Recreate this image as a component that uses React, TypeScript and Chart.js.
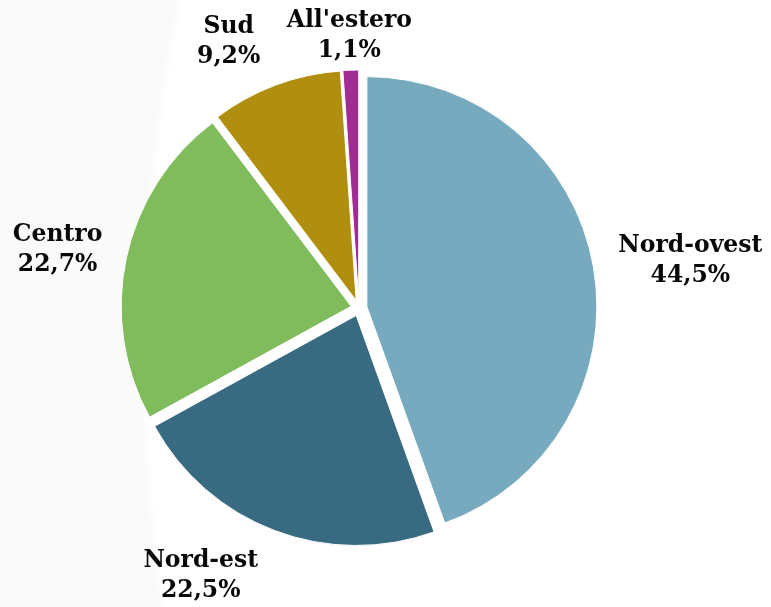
import React, { useEffect, useRef } from "react";
import { Chart, registerables } from "chart.js";

Chart.register(...registerables);

const categories = ["Nord-ovest", "Nord-est", "Centro", "Sud", "All'estero"];
const shares = [44.5, 22.5, 22.7, 9.2, 1.1];
const shareLabels = ["44,5%", "22,5%", "22,7%", "9,2%", "1,1%"];
const sliceColors = ["#78AABF", "#386B82", "#80BC5C", "#B08F10", "#A02C94"];

const RADIUS = 230;
const EXPLODE = 8;
const LABEL_GAP = 8;
const LABEL_NUDGE: [number, number][] = [
  [18, -2],
  [-51, 8],
  [-17, -2],
  [-33, -10],
  [1, 2],
];
const FONT_SIZE = 23.5;
const LINE_H = 30;
const FONT_FAMILY = '"DejaVu Serif", serif';

const explodePlugin = {
  id: "explodeSlices",
  afterDatasetsUpdate(chart: any) {
    const meta = chart.getDatasetMeta(0);
    meta.data.forEach((arc: any) => {
      const mid = (arc.startAngle + arc.endAngle) / 2;
      arc.x += Math.cos(mid) * EXPLODE;
      arc.y += Math.sin(mid) * EXPLODE;
    });
  },
};

const labelPlugin = {
  id: "outsideLabels",
  afterDatasetsDraw(chart: any) {
    const { ctx, chartArea } = chart;
    const cx = (chartArea.left + chartArea.right) / 2;
    const cy = (chartArea.top + chartArea.bottom) / 2;
    const meta = chart.getDatasetMeta(0);
    ctx.save();
    ctx.font = `bold ${FONT_SIZE}px ${FONT_FAMILY}`;
    ctx.fillStyle = "#080808";
    ctx.textAlign = "center";
    ctx.textBaseline = "alphabetic";
    meta.data.forEach((arc: any, i: number) => {
      const mid = (arc.startAngle + arc.endAngle) / 2;
      const dx = Math.cos(mid);
      const dy = Math.sin(mid);
      const l1 = categories[i];
      const l2 = shareLabels[i];
      const w = Math.max(ctx.measureText(l1).width, ctx.measureText(l2).width);
      const h = 2 * LINE_H;
      const d = RADIUS + EXPLODE + LABEL_GAP;
      const bx = cx + dx * d + (dx * w) / 2 + LABEL_NUDGE[i][0];
      const by = cy + dy * d + (dy * h) / 2 + LABEL_NUDGE[i][1];
      const capHalf = 8;
      ctx.fillText(l1, bx, by - LINE_H / 2 + capHalf);
      ctx.fillText(l2, bx, by + LINE_H / 2 + capHalf);
    });
    ctx.restore();
  },
};

export default function App() {
  const ref = useRef<HTMLCanvasElement | null>(null);

  useEffect(() => {
    if (!ref.current) return;
    const chart = new Chart(ref.current, {
      type: "pie",
      data: {
        labels: categories,
        datasets: [
          {
            data: shares,
            backgroundColor: sliceColors,
            borderColor: "#ffffff",
            borderWidth: 1,
          },
        ],
      },
      options: {
        responsive: false,
        animation: false,
        radius: RADIUS,
        layout: { padding: { left: 0, right: 53, top: 9, bottom: 0 } },
        plugins: {
          legend: { display: false },
          tooltip: { enabled: false },
        },
      } as any,
      plugins: [explodePlugin, labelPlugin],
    });
    return () => chart.destroy();
  }, []);

  return (
    <div
      style={{
        position: "fixed",
        left: 0,
        top: 0,
        width: 771,
        height: 607,
        background:
          "radial-gradient(560px 1000px at 700px 350px, #ffffff 98.5%, #fafafa 100%)",
      }}
    >
      <canvas ref={ref} width={771} height={607} style={{ display: "block" }} />
    </div>
  );
}
